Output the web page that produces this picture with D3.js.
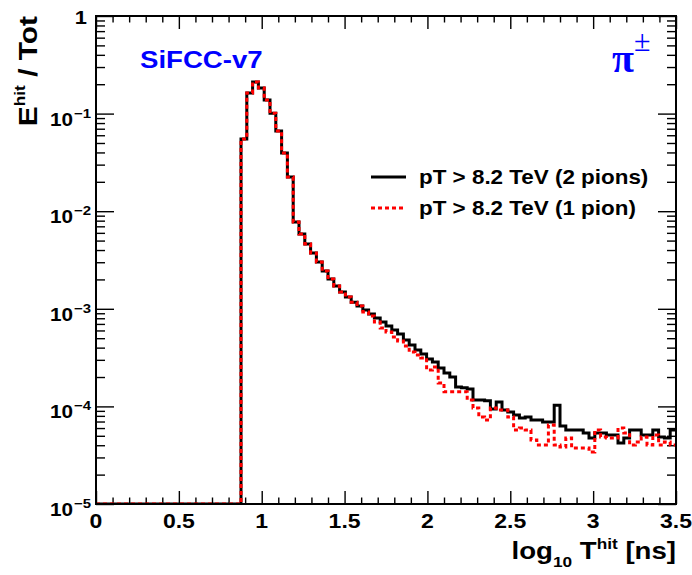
<!DOCTYPE html>
<html>
<head>
<meta charset="utf-8">
<script src="https://cdn.jsdelivr.net/npm/d3@7"></script>
<style>
  html, body { margin: 0; padding: 0; background: #fff; }
  svg { display: block; font-family: "Liberation Sans", Arial, Helvetica, sans-serif; }
</style>
</head>
<body>
<svg id="chart" width="692" height="575"></svg>
<script>
// Histogram binning of log10(T_hit / ns)
const xMin = 0, xMax = 3.5, nBins = 100;

// Energy fraction per bin, events with two pions above threshold
const twoPions = [
  0, 0, 0, 0, 0, 0, 0, 0, 0, 0,
  0, 0, 0, 0, 0, 0, 0, 0, 0, 0,
  0, 0, 0, 0, 0, 0.0549, 0.163, 0.211, 0.183, 0.138,
  0.101, 0.0663, 0.0395, 0.0224, 0.00775, 0.00584, 0.00461, 0.00373, 0.00302, 0.00244,
  0.00202, 0.00171, 0.00149, 0.00132, 0.00117, 0.00107, 0.000972, 0.000885, 0.000805, 0.000733,
  0.000667, 0.000607, 0.000552, 0.000479, 0.000426, 0.000378, 0.000344, 0.000306, 0.000285, 0.000247,
  0.000220, 0.000200, 0.000158, 0.000155, 0.000151, 0.000116, 0.000116, 0.000114, 0.0000940, 0.000111,
  0.0000918, 0.0000877, 0.0000816, 0.0000760, 0.0000778, 0.0000726, 0.0000726, 0.0000692, 0.0000692, 0.000103,
  0.0000630, 0.0000573, 0.0000573, 0.0000573, 0.0000534, 0.0000475, 0.0000534, 0.0000534, 0.0000509, 0.0000509,
  0.0000422, 0.0000475, 0.0000573, 0.0000573, 0.0000509, 0.0000509, 0.0000573, 0.0000486, 0.0000475, 0.0000573
];

// Energy fraction per bin, events with one pion above threshold
const onePion = [
  0, 0, 0, 0, 0, 0, 0, 0, 0, 0,
  0, 0, 0, 0, 0, 0, 0, 0, 0, 0,
  0, 0, 0, 0, 0, 0.0549, 0.163, 0.211, 0.183, 0.138,
  0.101, 0.0663, 0.0395, 0.0224, 0.00775, 0.00584, 0.00461, 0.00373, 0.00302, 0.00244,
  0.00202, 0.00171, 0.00149, 0.00132, 0.00117, 0.00107, 0.000927, 0.000844, 0.000733, 0.000636,
  0.000578, 0.000514, 0.000468, 0.000416, 0.000361, 0.000336, 0.000313, 0.000236, 0.000253, 0.000174,
  0.000141, 0.000141, 0.000141, 0.000141, 0.000116, 0.0000964, 0.0000778, 0.0000726, 0.0000964, 0.0000918,
  0.0000918, 0.0000778, 0.0000573, 0.0000601, 0.0000573, 0.0000453, 0.0000402, 0.0000402, 0.0000645, 0.0000402,
  0.0000384, 0.0000475, 0.0000375, 0.0000375, 0.0000375, 0.0000341, 0.0000573, 0.0000486, 0.0000475, 0.0000475,
  0.0000601, 0.0000534, 0.0000402, 0.0000432, 0.0000486, 0.0000402, 0.0000509, 0.0000402, 0.0000432, 0.0000402
];

const xTicks = [0, 0.5, 1, 1.5, 2, 2.5, 3, 3.5];
const xTickLabels = ["0", "0.5", "1", "1.5", "2", "2.5", "3", "3.5"];
const yTicks = [1, 1e-1, 1e-2, 1e-3, 1e-4, 1e-5];
const yTickExponents = [null, "−1", "−2", "−3", "−4", "−5"];
const legendLabels = ["pT > 8.2 TeV (2 pions)", "pT > 8.2 TeV (1 pion)"];

const svg = d3.select("#chart");
const plot = { left: 96, right: 676, top: 16, bottom: 504 };
const wide = 1.15; // horizontal widening of the Helvetica-style lettering

const x = d3.scaleLinear().domain([xMin, xMax]).range([plot.left, plot.right]);
const y = d3.scaleLog().domain([1e-5, 1]).range([plot.bottom, plot.top]);

const binWidth = (xMax - xMin) / nBins;
const edges = d3.range(nBins + 1).map(i => xMin + i * binWidth);

// text anchored at (tx, ty), widened along its writing direction
function label(parent, tx, ty, anchor, size, rot) {
  const g = parent.append("g")
    .attr("transform", `translate(${tx},${ty})` + (rot ? ` rotate(${rot})` : "") + ` scale(${wide},1)`);
  return g.append("text").attr("text-anchor", anchor)
    .attr("font-size", size).attr("font-weight", "bold");
}

svg.append("defs").append("clipPath").attr("id", "frameClip")
  .append("rect")
  .attr("x", plot.left).attr("y", plot.top)
  .attr("width", plot.right - plot.left).attr("height", plot.bottom - plot.top);

// Minor tick positions
const xMinor = d3.range(0, 36).map(i => i / 10).filter(v => Math.abs(v * 2 - Math.round(v * 2)) > 1e-6);
const yMinor = [];
for (let e = -5; e < 0; e++) for (let m = 2; m <= 9; m++) yMinor.push(m * Math.pow(10, e));

function tickAxis(axis, tx, ty) {
  const g = svg.append("g").attr("transform", `translate(${tx},${ty})`).call(axis);
  g.select(".domain").remove();
  g.selectAll(".tick line").attr("stroke", "#000").attr("stroke-width", 1.4);
  g.selectAll(".tick text").remove();
  return g;
}

const xMaj = 13, xMin_ = 6.5, yMaj = 18, yMin_ = 9;
tickAxis(d3.axisBottom(x).tickValues(xTicks).tickSize(-xMaj), 0, plot.bottom);
tickAxis(d3.axisBottom(x).tickValues(xMinor).tickSize(-xMin_), 0, plot.bottom);
tickAxis(d3.axisTop(x).tickValues(xTicks).tickSize(-xMaj), 0, plot.top);
tickAxis(d3.axisTop(x).tickValues(xMinor).tickSize(-xMin_), 0, plot.top);
tickAxis(d3.axisLeft(y).tickValues(yTicks).tickSize(-yMaj), plot.left, 0);
tickAxis(d3.axisLeft(y).tickValues(yMinor).tickSize(-yMin_), plot.left, 0);
tickAxis(d3.axisRight(y).tickValues(yTicks).tickSize(-yMaj), plot.right, 0);
tickAxis(d3.axisRight(y).tickValues(yMinor).tickSize(-yMin_), plot.right, 0);

// Histogram step lines
const step = d3.line()
  .x(d => x(d[0]))
  .y(d => y(Math.max(d[1], 1e-5)))
  .curve(d3.curveStepAfter);

function histPoints(values) {
  const pts = values.map((v, i) => [edges[i], v]);
  pts.push([edges[nBins], values[nBins - 1]]);
  return pts;
}

const hist = svg.append("g").attr("clip-path", "url(#frameClip)");
hist.append("path")
  .attr("d", step(histPoints(twoPions)))
  .attr("fill", "none").attr("stroke", "#000").attr("stroke-width", 3);
hist.append("path")
  .attr("d", step(histPoints(onePion)))
  .attr("fill", "none").attr("stroke", "#ff0000").attr("stroke-width", 3)
  .attr("stroke-dasharray", "4,3");

// Frame
svg.append("rect")
  .attr("x", plot.left).attr("y", plot.top)
  .attr("width", plot.right - plot.left).attr("height", plot.bottom - plot.top)
  .attr("fill", "none").attr("stroke", "#000").attr("stroke-width", 2);

// X tick labels
xTicks.forEach((d, i) => {
  label(svg, x(d), plot.bottom + 24, "middle", 20).text(xTickLabels[i]);
});

// Y tick labels with exponents
yTicks.forEach((v, i) => {
  const py = y(v);
  if (yTickExponents[i] === null) {
    label(svg, 87, py + 8, "end", 19).text("1");
  } else {
    label(svg, 73, py + 12, "end", 18).text("10");
    label(svg, 74, py + 4, "start", 13).text(yTickExponents[i]);
  }
});

// X axis title
const xt = label(svg, plot.right, 559, "end", 24);
xt.append("tspan").text("log");
xt.append("tspan").attr("font-size", 15).attr("dy", 8).text("10");
xt.append("tspan").attr("dy", -8).text(" T");
xt.append("tspan").attr("font-size", 15).attr("dy", -10).text("hit");
xt.append("tspan").attr("dy", 10).text(" [ns]");

// Y axis title
const yt = label(svg, 37, plot.top, "end", 26, -90);
yt.append("tspan").text("E");
yt.append("tspan").attr("font-size", 15).attr("dy", -12).text("hit");
yt.append("tspan").attr("dy", 12).text("  / Tot");

// Labels in the frame
label(svg, 140, 68, "start", 24).attr("fill", "#0000ff").text("SiFCC-v7");
const pi = svg.append("text").attr("x", 612).attr("y", 72)
  .attr("font-family", "'Liberation Serif', 'Times New Roman', serif")
  .attr("font-weight", "bold")
  .attr("font-size", 40).attr("fill", "#0000ff");
pi.append("tspan").text("π");
pi.append("tspan").attr("font-size", 30).attr("font-weight", "normal").attr("dy", -21).text("±");

// Legend
const legendRows = [
  { label: legendLabels[0], color: "#000", dash: null, ly: 177 },
  { label: legendLabels[1], color: "#ff0000", dash: "4,3", ly: 208 }
];
legendRows.forEach(r => {
  svg.append("line")
    .attr("x1", 371).attr("x2", 406).attr("y1", r.ly).attr("y2", r.ly)
    .attr("stroke", r.color).attr("stroke-width", 3)
    .attr("stroke-dasharray", r.dash);
  label(svg, 419, r.ly + 7, "start", 19.5).text(r.label);
});
</script>
</body>
</html>
